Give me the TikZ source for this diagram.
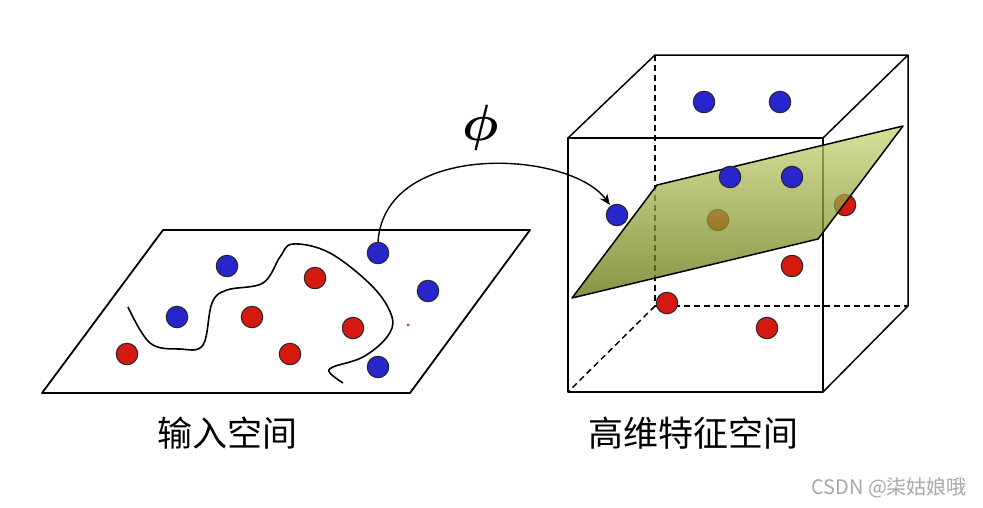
\documentclass[tikz,border=0pt]{standalone}
\usepackage{bm}
\usepackage{fontspec}
\newfontfamily\cjk{Noto Sans CJK SC}
\usetikzlibrary{arrows.meta}
\definecolor{dotblue}{HTML}{2626CC}
\definecolor{dotred}{HTML}{D41A10}
\definecolor{planetop}{HTML}{CBD678}
\definecolor{planemid}{HTML}{9FAE36}
\definecolor{planebot}{HTML}{5E7206}
\definecolor{wmgray}{HTML}{A8A8A8}
\begin{document}
\begin{tikzpicture}[x=1pt,y=-1pt,
  dot/.style={circle,draw=black!85,line width=1pt,minimum size=21.5pt,inner sep=0pt},
  bdot/.style={dot,fill=dotblue},
  rdot/.style={dot,fill=dotred},
  edgeline/.style={line width=1.5pt,line join=round},
  hidden/.style={edgeline,dash pattern=on 6pt off 4pt},
  label/.style={font=\cjk\fontsize{35}{35}\selectfont,inner sep=0pt}]
\useasboundingbox (0,0) rectangle (983,507);
\fill[white] (0,0) rectangle (983,507);

% ---- input space ----
\draw[edgeline,line width=1.8pt] (163,230) -- (530,230) -- (410,393) -- (42,393) -- cycle;
\draw[line width=1.6pt] plot[smooth,tension=0.6] coordinates {(128,307) (150,343) (180,349) (203,345) (212,303) (227,290) (263,283) (280,257) (293,244) (330,253) (373,287) (392,317) (387,337) (363,357) (333,367) (330,373) (343,383)};
\fill[dotred] (408,325) circle (1.3);
\node[bdot] (L1) at (227,266) {};
\node[bdot] (L2) at (177,317) {};
\node[rdot] (L3) at (127,354) {};
\node[rdot] (L4) at (315,278) {};
\node[rdot] (L5) at (252,317) {};
\node[rdot] (L6) at (353,328) {};
\node[rdot] (L7) at (290,354) {};
\node[bdot] (L8) at (378,253) {};
\node[bdot] (L9) at (428,291) {};
\node[bdot] (L10) at (378,367) {};

% ---- cube ----
\coordinate (FTL) at (568,138);
\coordinate (FTR) at (823,138);
\coordinate (FBR) at (823,392);
\coordinate (FBL) at (568,392);
\coordinate (BTL) at (655,55);
\coordinate (BTR) at (908,55);
\coordinate (BBR) at (908,306);
\coordinate (BBL) at (655,306);
\draw[hidden] (BTL) -- (BBL) -- (BBR);
\draw[hidden] (BBL) -- (FBL);
\draw[edgeline] (FTL) -- (FTR) -- (FBR) -- (FBL) -- cycle;
\draw[edgeline] (FTL) -- (BTL) -- (BTR) -- (FTR);
\draw[edgeline] (BTR) -- (BBR) -- (FBR);

% dots behind the plane
\node[rdot] (R6) at (718,220) {};
\node[rdot] (R7) at (845,205) {};

% separating plane
\coordinate (P1) at (572,298);
\coordinate (P2) at (657,185);
\coordinate (P3) at (903,126);
\coordinate (P4) at (818,239);
\shade[top color=planetop,middle color=planemid,bottom color=planebot,fill opacity=0.75] (P1) -- (P2) -- (P3) -- (P4) -- cycle;
\draw[edgeline] (P1) -- (P2) -- (P3) -- (P4) -- cycle;

% dots in front
\node[bdot] (R1) at (704,102) {};
\node[bdot] (R2) at (780,102) {};
\node[bdot] (R3) at (730,177) {};
\node[bdot] (R4) at (792,177) {};
\node[bdot] (R5) at (617,215) {};
\node[rdot] (R8) at (792,266) {};
\node[rdot] (R9) at (667,303) {};
\node[rdot] (R10) at (767,328) {};

% ---- mapping ----
\draw[line width=1.4pt,-{Stealth[length=11pt,width=9pt]},shorten >=1pt] (L8.north) .. controls (385,140) and (570,150) .. (R5.125);
\node[scale=2.05,inner sep=0pt] (phi) at (481,128) {\Huge$\bm{\phi}$};

% ---- labels ----
\node[label] (lin) at (227,433) {输入空间};
\node[label] (lout) at (693,433) {高维特征空间};
\node[anchor=west,text=wmgray,font=\cjk\fontsize{20}{20}\selectfont,inner sep=0pt] (wm) at (811,488) {CSDN @柒姑娘哦};
\end{tikzpicture}
\end{document}
